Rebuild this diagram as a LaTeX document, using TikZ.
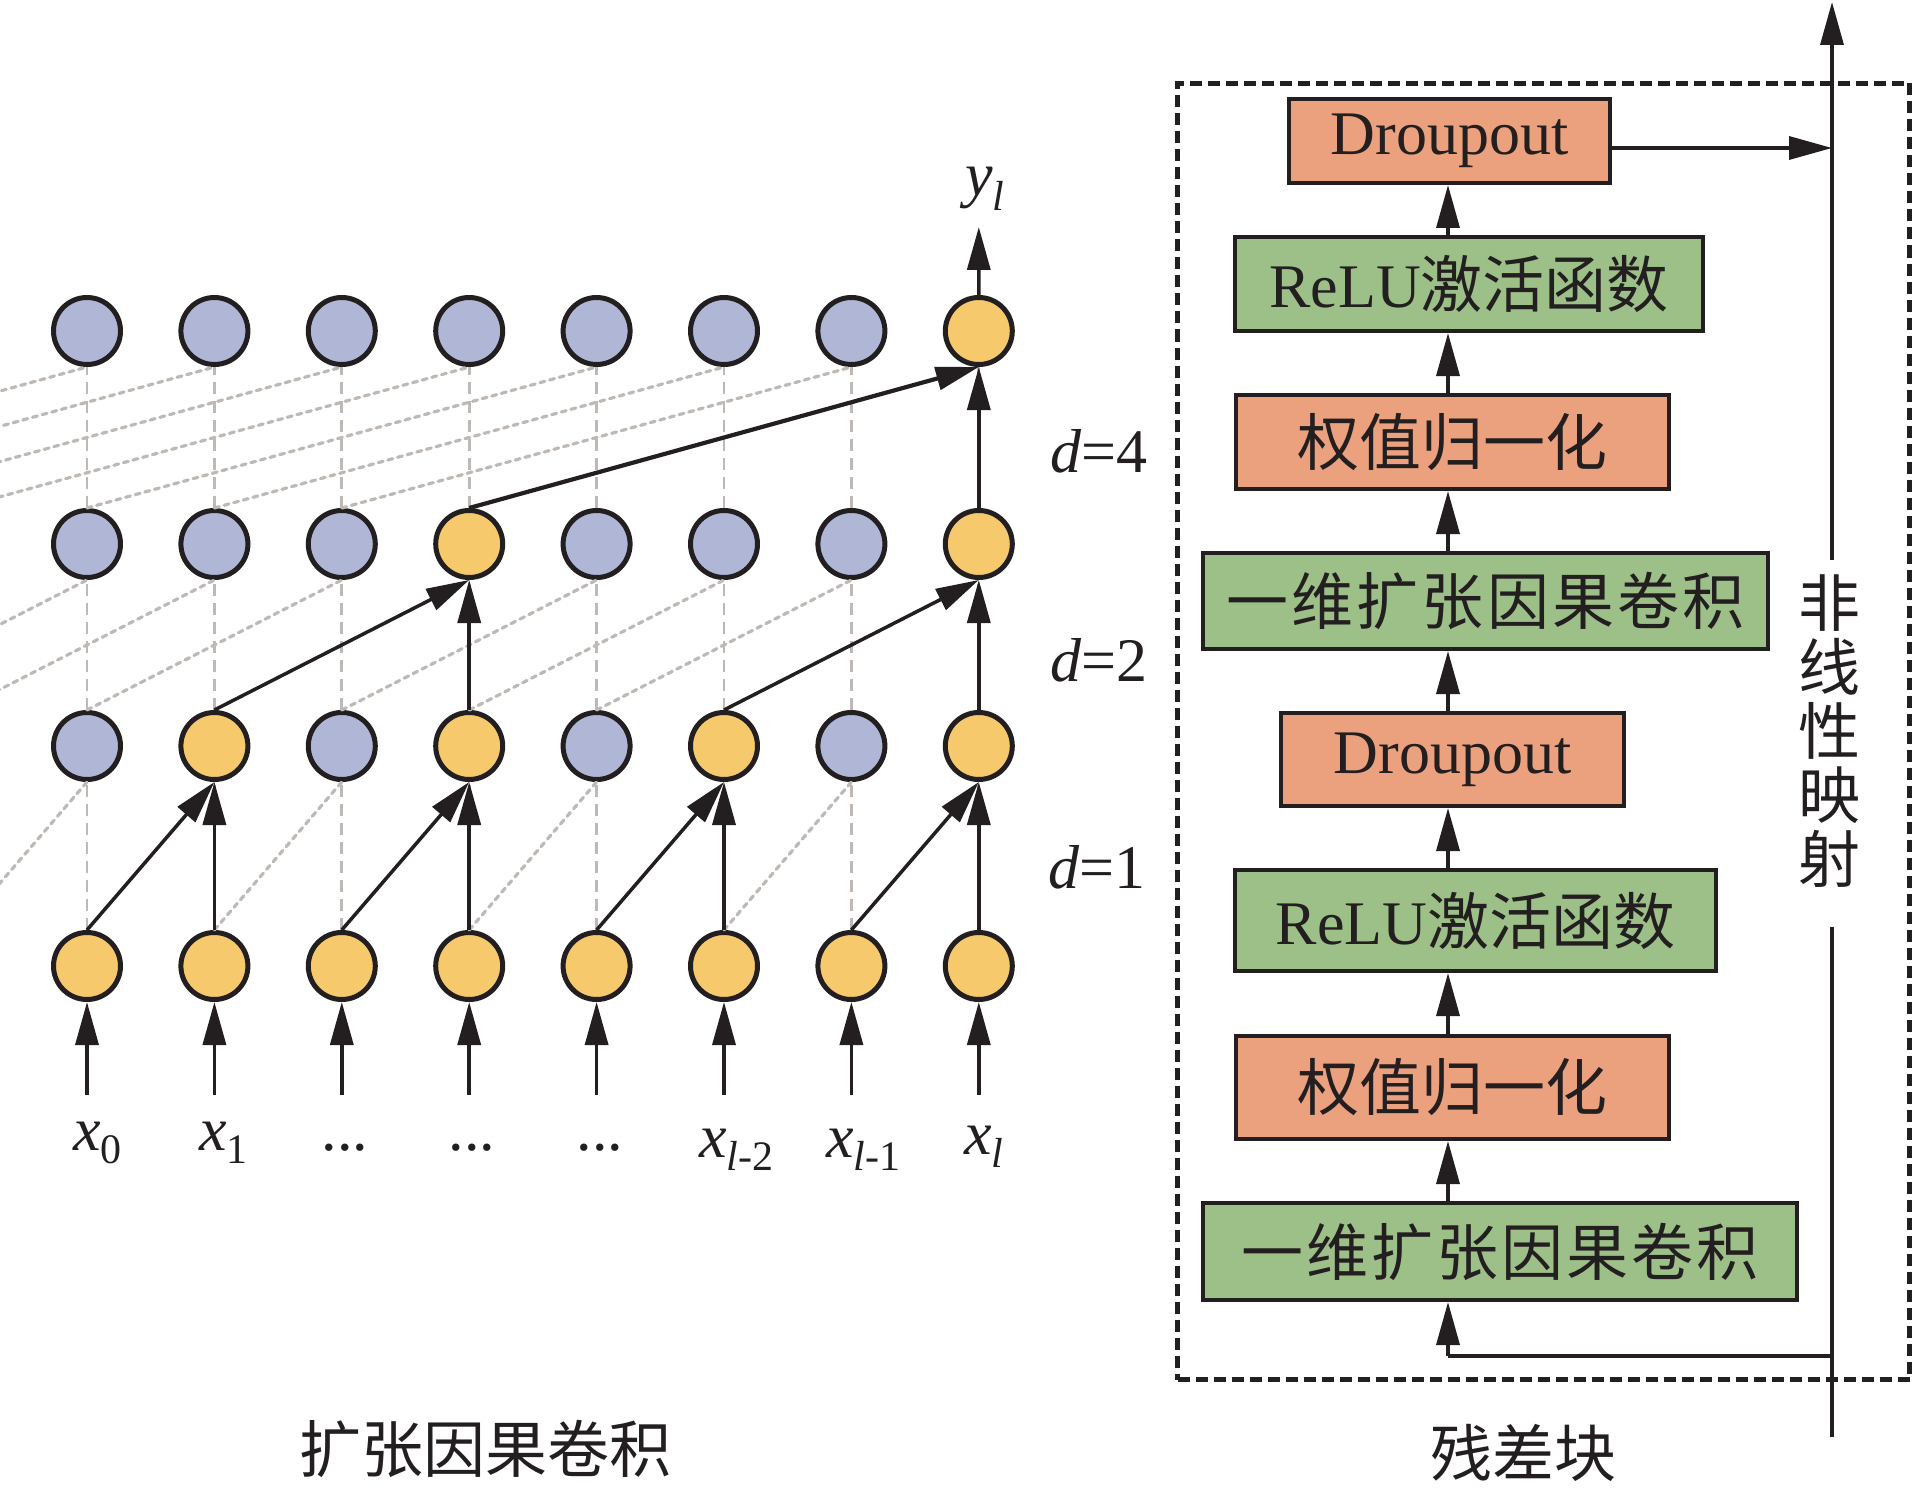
\documentclass[tikz,border=0pt]{standalone}
\usepackage{fontspec}
\setmainfont{Liberation Serif}
\newfontfamily\cjk{Noto Sans CJK SC}
\newfontfamily\cjkw[LetterSpace=5]{Noto Sans CJK SC}
\usetikzlibrary{arrows.meta}
\definecolor{ink}{RGB}{35,31,32}
\definecolor{nblue}{RGB}{176,183,214}
\definecolor{nyellow}{RGB}{245,201,108}
\definecolor{bgreen}{RGB}{157,192,137}
\definecolor{bsalmon}{RGB}{236,161,126}
\definecolor{gline}{RGB}{190,185,181}
\begin{document}
\begin{tikzpicture}[x=1pt,y=-1pt,
  neuron/.style={circle, draw=ink, line width=5pt, minimum size=67pt, inner sep=0pt},
  bluen/.style={neuron, fill=nblue},
  yellown/.style={neuron, fill=nyellow},
  arr/.style={draw=ink, line width=3.5pt, -{Triangle[length=43pt,width=23pt]}},
  wire/.style={draw=ink, line width=3.5pt},
  vgray/.style={draw=gline, line width=2.8pt, dash pattern=on 12pt off 7pt},
  dgray/.style={draw=gline, line width=3.2pt, line cap=round, dash pattern=on 5pt off 5pt},
  block/.style={draw=ink, line width=4pt, inner sep=0pt, text=ink, font=\fontsize{62}{70}\selectfont},
  gbox/.style={block, fill=bgreen},
  sbox/.style={block, fill=bsalmon},
  lbl/.style={text=ink, inner sep=0pt, font=\fontsize{62}{66}\selectfont},
  cjklbl/.style={text=ink, inner sep=0pt, font=\cjk\fontsize{62}{64}\selectfont},
]
\useasboundingbox (0,0) rectangle (1915,1490);
\begin{scope}
\clip (0,0) rectangle (1915,1490);
% ---------- neurons ----------
\foreach \c/\s in {0/bluen,1/bluen,2/bluen,3/bluen,4/bluen,5/bluen,6/bluen,7/yellown}
  \node[\s] (n1-\c) at ({87+127.4*\c},331) {};
\foreach \c/\s in {0/bluen,1/bluen,2/bluen,3/yellown,4/bluen,5/bluen,6/bluen,7/yellown}
  \node[\s] (n2-\c) at ({87+127.4*\c},544) {};
\foreach \c/\s in {0/bluen,1/yellown,2/bluen,3/yellown,4/bluen,5/yellown,6/bluen,7/yellown}
  \node[\s] (n3-\c) at ({87+127.4*\c},746) {};
\foreach \c in {0,...,7}
  \node[yellown] (n4-\c) at ({87+127.4*\c},966) {};
% ghost sources left of the picture
\foreach \k in {1,...,4} \coordinate (g2m\k) at ({87-127.4*\k},508);
\foreach \k in {1,2} \coordinate (g3m\k) at ({87-127.4*\k},710);
\coordinate (g4m1) at ({87-127.4},930);
\foreach \c in {0,...,7} \coordinate (xin\c) at ({87+127.4*\c},1095);
\coordinate (ytip) at (978.8,227);
% ---------- gray connections ----------
\foreach \c in {0,...,7} {
  \draw[vgray] (n2-\c.north) -- (n1-\c.south);
  \draw[vgray] (n3-\c.north) -- (n2-\c.south);
  \draw[vgray] (n4-\c.north) -- (n3-\c.south);
}
% d=1
\draw[dgray] (g4m1) -- (n3-0.south);
\draw[dgray] (n4-1.north) -- (n3-2.south);
\draw[dgray] (n4-3.north) -- (n3-4.south);
\draw[dgray] (n4-5.north) -- (n3-6.south);
% d=2
\draw[dgray] (g3m2) -- (n2-0.south);
\draw[dgray] (g3m1) -- (n2-1.south);
\draw[dgray] (n3-0.north) -- (n2-2.south);
\draw[dgray] (n3-2.north) -- (n2-4.south);
\draw[dgray] (n3-3.north) -- (n2-5.south);
\draw[dgray] (n3-4.north) -- (n2-6.south);
% d=4
\draw[dgray] (g2m4) -- (n1-0.south);
\draw[dgray] (g2m3) -- (n1-1.south);
\draw[dgray] (g2m2) -- (n1-2.south);
\draw[dgray] (g2m1) -- (n1-3.south);
\draw[dgray] (n2-0.north) -- (n1-4.south);
\draw[dgray] (n2-1.north) -- (n1-5.south);
\draw[dgray] (n2-2.north) -- (n1-6.south);
% ---------- black connections ----------
\foreach \a/\b in {0/1,1/1,2/3,3/3,4/5,5/5,6/7,7/7}
  \draw[arr] (n4-\a.north) -- (n3-\b.south);
\foreach \a/\b in {1/3,3/3,5/7,7/7}
  \draw[arr] (n3-\a.north) -- (n2-\b.south);
\draw[arr, line width=4.2pt] (n2-3.north) -- (n1-7.south);
\draw[arr] (n2-7.north) -- (n1-7.south);
\draw[arr] (n1-7.north) -- (ytip);
\foreach \c in {0,...,7}
  \draw[arr] (xin\c) -- (n4-\c.south);
% ---------- labels ----------
\node[lbl, anchor=base west] (yl) at (965,196) {\textit{y}\raisebox{-15pt}{\fontsize{42}{42}\selectfont\textit{l}}};
\node[lbl, anchor=base west] (x0) at (73,1150) {\textit{x}\raisebox{-13pt}{\fontsize{42}{42}\selectfont 0}};
\node[lbl, anchor=base west] (x1) at (199,1150) {\textit{x}\raisebox{-13pt}{\fontsize{42}{42}\selectfont 1}};
\node[lbl, anchor=base] (xd2) at (345,1150) {...};
\node[lbl, anchor=base] (xd3) at (472,1150) {...};
\node[lbl, anchor=base] (xd4) at (600,1150) {...};
\node[lbl, anchor=base west] (x5) at (699,1157) {\textit{x}\raisebox{-13pt}{\fontsize{42}{42}\selectfont\textit{l}-2}};
\node[lbl, anchor=base west] (x6) at (826,1157) {\textit{x}\raisebox{-13pt}{\fontsize{42}{42}\selectfont\textit{l}-1}};
\node[lbl, anchor=base west] (x7) at (964,1154) {\textit{x}\raisebox{-13pt}{\fontsize{42}{42}\selectfont\textit{l}}};
\node[lbl, anchor=base] (d4) at (1099,472) {\textit{d}=4};
\node[lbl, anchor=base] (d2) at (1099,681) {\textit{d}=2};
\node[lbl, anchor=base] (d1) at (1097,888) {\textit{d}=1};
\node[cjklbl] (t1) at (485,1449) {扩张因果卷积};
\node[cjklbl] (t2) at (1523,1453) {残差块};
% ---------- residual block ----------
\node[draw=ink, line width=4.5pt, dash pattern=on 12pt off 6pt, minimum width=732pt, minimum height=1296pt, inner sep=0pt] (res) at (1543.5,731.5) {};
\node[sbox, minimum width=321pt, minimum height=84pt] (b1) at (1449.5,141) {Droupout};
\node[gbox, minimum width=468pt, minimum height=94pt] (b2) at (1469,284) {ReLU{\cjk 激活函数}};
\node[sbox, minimum width=433pt, minimum height=94pt] (b3) at (1452.5,442) {\cjk 权值归一化};
\node[gbox, minimum width=565pt, minimum height=96pt] (b4) at (1485.5,601) {\cjkw 一维扩张因果卷积};
\node[sbox, minimum width=343pt, minimum height=93pt] (b5) at (1452.5,759.5) {Droupout};
\node[gbox, minimum width=481pt, minimum height=101pt] (b6) at (1475.5,920.5) {ReLU{\cjk 激活函数}};
\node[sbox, minimum width=433pt, minimum height=103pt] (b7) at (1452.5,1087.5) {\cjk 权值归一化};
\node[gbox, minimum width=594pt, minimum height=97pt] (b8) at (1500,1251.5) {\cjkw 一维扩张因果卷积};
\coordinate (ax) at (1448,0);
\foreach \a/\b in {8/7,7/6,6/5,5/4,4/3,3/2,2/1}
  \draw[arr] (b\a.north -| ax) -- (b\b.south -| ax);
% skip path
\coordinate (vbot) at (1832,1437);
\coordinate (vgapb) at (1832,927);
\coordinate (vgapt) at (1832,560);
\coordinate (vtop) at (1832,2);
\coordinate (vsplit) at (1832,1356);
\coordinate (vjoin) at (1832,148);
\draw[wire] (vbot) -- (vgapb);
\draw[arr] (vgapt) -- (vtop);
\draw[wire] (vsplit) -- (vsplit -| ax);
\draw[arr] (vsplit -| ax) -- (b8.south -| ax);
\draw[arr] (b1.east |- vjoin) -- (vjoin);
\node[cjklbl, align=center] (nl) at (1829,731) {非\\线\\性\\映\\射};
\end{scope}
\end{tikzpicture}
\end{document}
